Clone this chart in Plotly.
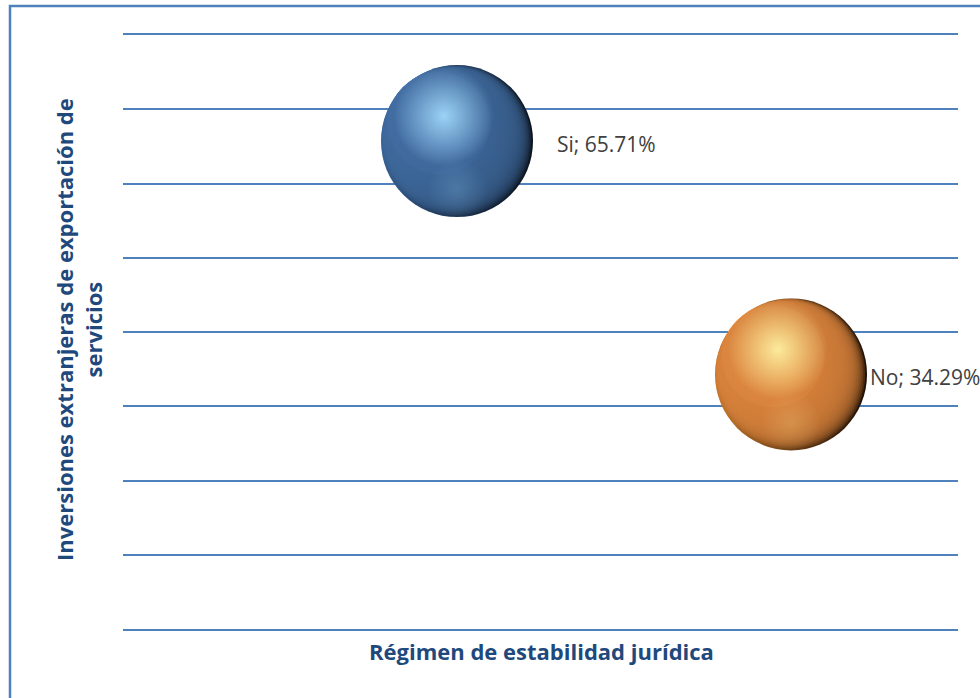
import plotly.graph_objects as go

# ---- data ----
categories = ["Si", "No"]
x_values = [1, 2]
y_values = [0.6571, 0.3429]
x_title = "Régimen de estabilidad jurídica"
y_title = "Inversiones extranjeras de exportación de<br>servicios"

# ---- style ----
W, H = 980, 698
M = dict(l=123, r=22, t=35, b=69)
X_RANGE = [0, 2.5]
Y_RANGE = [0, 0.8]
PW = W - M["l"] - M["r"]
PH = H - M["t"] - M["b"]
px_x = PW / (X_RANGE[1] - X_RANGE[0])   # pixels per x unit
px_y = PH / (Y_RANGE[1] - Y_RANGE[0])   # pixels per y unit

BUBBLE = 152
palettes = [
    dict(base="76,125,186", rim_left="#3C6AA4", rim_right="#0D1420", shade="12,22,38",
         shade_a=(0.22, 0.12), hi="165,222,255"),
    dict(base="248,152,72", rim_left="#DC842F", rim_right="#1E1005", shade="60,28,4",
         shade_a=(0.16, 0.08), hi="255,246,165"),
]
label_xshift = [98, 77]
FONT = "Open Sans"
TITLE_COLOR = "#1F497D"

fig = go.Figure()


def layer(x, y, size, color, gtype=None, gcolor=None):
    marker = dict(size=size, color=color, line=dict(width=0))
    if gtype:
        marker["gradient"] = dict(type=gtype, color=gcolor)
    fig.add_trace(go.Scatter(x=[x], y=[y], mode="markers", marker=marker,
                             hoverinfo="skip", showlegend=False))


def vx(px):
    return px / px_x


def vy(px):
    return px / px_y


for i, (cat, xv, yv) in enumerate(zip(categories, x_values, y_values)):
    p = palettes[i]
    b = p["base"]
    # sphere: rim colour underneath (medium on the left, very dark on the right)
    fig.add_trace(go.Scatter(x=[xv], y=[yv], mode="markers", name=cat,
                             marker=dict(size=BUBBLE, color=p["rim_left"], line=dict(width=0),
                                         gradient=dict(type="horizontal", color=p["rim_right"])),
                             showlegend=False,
                             hovertemplate=f"{cat}: %{{y:.2%}}<extra></extra>"))
    # body: many translucent discs tangent at the upper-left -> smooth rim bottom-right
    for t in range(2, 34, 2):
        off = t / 2 * 0.7071
        layer(xv - vx(off), yv + vy(off), BUBBLE - t, f"rgba({b},0.24)")
    layer(xv - vx(18), yv + vy(18), BUBBLE - 50, f"rgba({b},1)")
    # shading toward the right and bottom
    sa_h, sa_v = p["shade_a"]
    layer(xv, yv, BUBBLE - 2, f"rgba({p['shade']},0)", "horizontal", f"rgba({p['shade']},{sa_h})")
    layer(xv, yv, BUBBLE - 2, f"rgba({p['shade']},0)", "vertical", f"rgba({p['shade']},{sa_v})")
    # gentle overall roundness
    layer(xv, yv, BUBBLE, "rgba(0,0,0,0.10)", "radial", "rgba(0,0,0,0)")
    # highlight (upper-left)
    layer(xv - vx(13), yv + vy(25), 100, f"rgba({p['hi']},0)", "radial", f"rgba({p['hi']},0.9)")
    # soft bottom reflection
    layer(xv, yv - vy(48), 60, f"rgba({p['hi']},0)", "radial", f"rgba({p['hi']},0.18)")

# data labels
for i, (cat, xv, yv) in enumerate(zip(categories, x_values, y_values)):
    fig.add_annotation(x=xv, y=yv, xref="x", yref="y",
                       text=f"{cat}; {yv * 100:.2f}%", showarrow=False,
                       xanchor="left", yanchor="middle", xshift=label_xshift[i], yshift=-3,
                       font=dict(family=FONT, size=21, color="#404040"))

# axis titles
fig.add_annotation(x=(541 - M["l"]) / PW, y=-(651 - (H - M["b"])) / PH,
                   xref="paper", yref="paper",
                   text=f"<b>{x_title}</b>", showarrow=False, xanchor="center", yanchor="middle",
                   font=dict(family=FONT, size=22, color=TITLE_COLOR))
fig.add_annotation(x=(78 - M["l"]) / PW, y=((H - M["b"]) - 330) / PH,
                   xref="paper", yref="paper",
                   text=f"<b>{y_title}</b>", showarrow=False, textangle=-90,
                   xanchor="center", yanchor="middle",
                   font=dict(family=FONT, size=22, color=TITLE_COLOR))

# outer chart border
fig.add_shape(type="rect", xref="paper", yref="paper",
              x0=(10 - M["l"]) / PW, x1=(1000 - M["l"]) / PW,
              y0=((H - M["b"]) - 720) / PH, y1=((H - M["b"]) - 6) / PH,
              line=dict(color="#4F81BD", width=2.5), fillcolor="rgba(0,0,0,0)")

fig.update_xaxes(range=X_RANGE, showgrid=False, zeroline=False, showticklabels=False,
                 showline=True, mirror=True, linecolor="#4F81BD", linewidth=2, ticks="")
fig.update_yaxes(range=Y_RANGE, dtick=0.1, tick0=0, showgrid=True, gridcolor="#4F81BD",
                 gridwidth=2, zeroline=False, showticklabels=False, ticks="")

fig.update_layout(width=W, height=H, margin=M, plot_bgcolor="white", paper_bgcolor="white",
                  font=dict(family=FONT), showlegend=False)

fig.write_html("out.html", config={"displayModeBar": False},
               post_script="document.body.style.margin='0';")
